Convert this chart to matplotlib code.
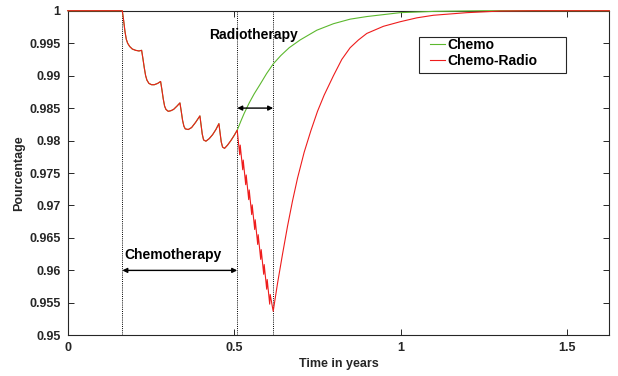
import matplotlib.pyplot as plt
from matplotlib.patches import Rectangle

plt.rcParams['font.family'] = ['Liberation Sans', 'DejaVu Sans']

# shared part: untreated, then six chemotherapy cycles (both curves coincide)
chemo_t = [0.000, 0.164, 0.168, 0.172, 0.176, 0.180, 0.186, 0.194, 0.204, 0.214, 0.222,
           0.226, 0.230, 0.234, 0.238, 0.244, 0.252, 0.260, 0.270, 0.279,
           0.283, 0.287, 0.291, 0.295, 0.302, 0.310, 0.318, 0.328, 0.337,
           0.341, 0.345, 0.349, 0.353, 0.362, 0.372, 0.384, 0.397,
           0.400, 0.404, 0.408, 0.415, 0.425, 0.435, 0.445, 0.454,
           0.457, 0.461, 0.465, 0.471, 0.480, 0.490, 0.500, 0.509]
chemo_v = [1.0000, 1.0000, 0.9985, 0.9968, 0.9956, 0.9950, 0.9945, 0.9941, 0.9939, 0.9938, 0.9939,
           0.9926, 0.9912, 0.9900, 0.9893, 0.9888, 0.9886, 0.9886, 0.9888, 0.9891,
           0.9878, 0.9864, 0.9853, 0.9848, 0.9845, 0.9846, 0.9848, 0.9853, 0.9858,
           0.9845, 0.9831, 0.9822, 0.9818, 0.9817, 0.9820, 0.9828, 0.9838,
           0.9826, 0.9810, 0.9801, 0.9799, 0.9803, 0.9809, 0.9817, 0.9826,
           0.9814, 0.9798, 0.9790, 0.9788, 0.9793, 0.9800, 0.9808, 0.9816]

# recovery without radiotherapy
green_t = [0.509, 0.520, 0.530, 0.545, 0.560, 0.577, 0.597, 0.617, 0.640, 0.665,
           0.698, 0.748, 0.798, 0.848, 0.898, 0.948, 0.998, 1.100, 1.250, 1.626]
green_v = [0.9816, 0.9830, 0.9842, 0.9858, 0.9872, 0.9886, 0.9903, 0.9918, 0.9931, 0.9943,
           0.9955, 0.9970, 0.9980, 0.9987, 0.9991, 0.9994, 0.9997, 0.9999, 1.0000, 1.0000]

# radiotherapy fractions then recovery
radio_t = [0.509, 0.5165, 0.518, 0.5255, 0.527, 0.5345, 0.536, 0.5435, 0.545, 0.5525, 0.554,
           0.5615, 0.563, 0.5705, 0.572, 0.5795, 0.581, 0.5885, 0.590, 0.5975, 0.599,
           0.6065, 0.608, 0.617,
           0.630, 0.645, 0.660, 0.675, 0.690, 0.710, 0.730, 0.750, 0.770, 0.798,
           0.823, 0.848, 0.873, 0.898, 0.948, 0.998, 1.048, 1.098, 1.198, 1.298, 1.400, 1.626]
radio_v = [0.9816, 0.9778, 0.9793, 0.9755, 0.9770, 0.9732, 0.9747, 0.9709, 0.9724, 0.9686, 0.9701,
           0.9663, 0.9678, 0.9640, 0.9655, 0.9617, 0.9632, 0.9594, 0.9609, 0.9571, 0.9586,
           0.9548, 0.9563, 0.9537,
           0.9580, 0.9625, 0.9668, 0.9707, 0.9742, 0.9782, 0.9815, 0.9845, 0.9870, 0.9900,
           0.9925, 0.9943, 0.9955, 0.9965, 0.9976, 0.9983, 0.9989, 0.9993, 0.9997, 0.99995, 1.0000, 1.0000]

chemo_start, radio_start, radio_end = 0.164, 0.509, 0.617

axis_col = '#262626'
fig = plt.figure(figsize=(6.18, 3.76), dpi=100)
ax = fig.add_axes([0.1095, 0.1082, 0.8764, 0.8633])

ax.plot(chemo_t + green_t[1:], chemo_v + green_v[1:], color='#5cb82e', lw=0.8,
        label='Chemo', clip_on=False, zorder=3)
ax.plot(chemo_t + radio_t[1:], chemo_v + radio_v[1:], color='#ee1c1c', lw=0.8,
        label='Chemo-Radio', clip_on=False, zorder=4)

for x in (chemo_start, radio_start, radio_end):
    ax.axvline(x, color='k', ls=(0, (1, 1.2)), lw=0.7, zorder=2)

arrow = dict(arrowstyle='<|-|>', color='k', lw=1.0, mutation_scale=7, shrinkA=0, shrinkB=0)
ax.annotate('', xy=(radio_start, 0.985), xytext=(radio_end, 0.985), arrowprops=arrow)
ax.annotate('', xy=(chemo_start, 0.96), xytext=(radio_start, 0.96), arrowprops=arrow)
ax.text(0.425, 0.9963, 'Radiotherapy', fontsize=10, fontweight='bold', va='center')
ax.text(0.169, 0.9624, 'Chemotherapy', fontsize=10, fontweight='bold', va='center')

ax.set_xlim(0, 1.626)
ax.set_ylim(0.95, 1)
ax.set_xticks([0, 0.5, 1, 1.5])
ax.set_xticklabels(['0', '0.5', '1', '1.5'])
yt = [0.95, 0.955, 0.96, 0.965, 0.97, 0.975, 0.98, 0.985, 0.99, 0.995, 1]
ax.set_yticks(yt)
ax.set_yticklabels(['%g' % v for v in yt])
ax.tick_params(direction='in', top=True, right=True, length=4, width=0.7,
               colors=axis_col, labelsize=9, pad=5)
for lab in ax.get_xticklabels() + ax.get_yticklabels():
    lab.set_fontweight('bold')
for s in ax.spines.values():
    s.set_color(axis_col)
    s.set_linewidth(0.8)

ax.set_xlabel('Time in years', fontsize=9, fontweight='bold', color=axis_col, labelpad=3)
ax.set_ylabel('Pourcentage', fontsize=9, fontweight='bold', color=axis_col, labelpad=3)

ax.add_patch(Rectangle((0.649, 0.807), 0.2705, 0.111, transform=ax.transAxes,
                       fill=False, edgecolor=axis_col, lw=0.8, zorder=5))
ax.legend(loc='upper left', bbox_to_anchor=(0.664, 0.925), frameon=False,
          prop={'weight': 'bold', 'size': 10}, handlelength=1.1, handletextpad=0.15,
          labelspacing=0.15, borderaxespad=0, borderpad=0.2)

fig.savefig('out.png', dpi=100)
